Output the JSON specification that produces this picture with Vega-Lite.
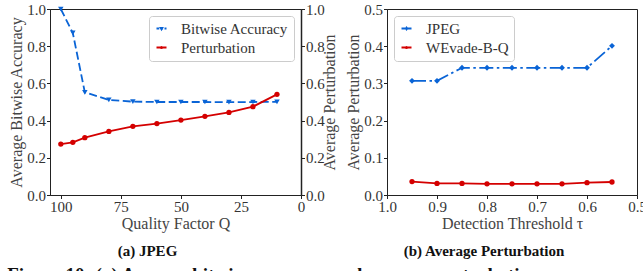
{
  "$schema": "https://vega.github.io/schema/vega-lite/v6.json",
  "padding": {"left": 7, "top": 1, "right": 0, "bottom": 0},
  "background": "white",
  "spacing": 7,
  "title": {"text": "Figure 10: (a) Average bitwise accuracy and average perturbation", "orient": "bottom", "anchor": "start", "font": "Liberation Serif", "fontWeight": "bold", "fontSize": 19, "color": "#111", "offset": 7, "dx": -1},
  "resolve": {"scale": {"color": "independent", "shape": "independent"}, "legend": {"color": "independent", "shape": "independent"}},
  "config": {
    "font": "Liberation Serif",
    "view": {"stroke": "#222", "strokeWidth": 1}
  },
  "datasets": {
    "acc": [{"q": 100, "v": 1.0}, {"q": 95, "v": 0.871}, {"q": 90, "v": 0.552}, {"q": 80, "v": 0.511}, {"q": 70, "v": 0.502}, {"q": 60, "v": 0.5}, {"q": 50, "v": 0.5}, {"q": 40, "v": 0.5}, {"q": 30, "v": 0.499}, {"q": 20, "v": 0.5}, {"q": 10, "v": 0.501}],
    "pert": [{"q": 100, "v": 0.274}, {"q": 95, "v": 0.283}, {"q": 90, "v": 0.308}, {"q": 80, "v": 0.342}, {"q": 70, "v": 0.369}, {"q": 60, "v": 0.384}, {"q": 50, "v": 0.403}, {"q": 40, "v": 0.423}, {"q": 30, "v": 0.444}, {"q": 20, "v": 0.475}, {"q": 10, "v": 0.541}],
    "tj": [{"t": 0.95, "v": 0.307}, {"t": 0.9, "v": 0.307}, {"t": 0.85, "v": 0.342}, {"t": 0.8, "v": 0.342}, {"t": 0.75, "v": 0.342}, {"t": 0.7, "v": 0.342}, {"t": 0.65, "v": 0.342}, {"t": 0.6, "v": 0.342}, {"t": 0.55, "v": 0.401}],
    "tw": [{"t": 0.95, "v": 0.036}, {"t": 0.9, "v": 0.031}, {"t": 0.85, "v": 0.031}, {"t": 0.8, "v": 0.03}, {"t": 0.75, "v": 0.03}, {"t": 0.7, "v": 0.03}, {"t": 0.65, "v": 0.03}, {"t": 0.6, "v": 0.033}, {"t": 0.55, "v": 0.035}],
    "la": [{"sa": "Bitwise Accuracy"}, {"sa": "Perturbation"}],
    "lb": [{"sb": "JPEG"}, {"sb": "WEvade-B-Q"}]
  },
  "hconcat": [
    {
      "width": 251,
      "height": 186,
      "title": {"text": "(a) JPEG", "orient": "bottom", "font": "Liberation Serif", "fontWeight": "bold", "fontSize": 15, "color": "#111", "offset": 12, "dx": -28},
      "resolve": {"scale": {"y": "independent"}},
      "layer": [
        {
          "layer": [
            {
              "data": {"name": "acc"},
              "mark": {"type": "line", "color": "#0a64d6", "strokeWidth": 1.8, "strokeDash": [8, 3.5]},
              "encoding": {
                "x": {"field": "q", "type": "quantitative", "scale": {"domain": [0, 104.5], "reverse": true, "nice": false, "zero": false}, "axis": {"values": [0, 25, 50, 75, 100], "title": "Quality Factor Q", "titlePadding": 1, "domainColor": "#222", "tickColor": "#222", "tickSize": 3.5, "labelFontSize": 15, "titleFontSize": 16, "titleFontWeight": "normal", "labelColor": "#333", "titleColor": "#444", "labelFont": "Liberation Serif", "titleFont": "Liberation Serif", "labelPadding": 1, "labelFlush": false, "grid": false}},
                "y": {"field": "v", "type": "quantitative", "scale": {"domain": [0, 1], "nice": false}, "axis": {"tickCount": 5, "format": ".1f", "title": "Average Bitwise Accuracy", "titlePadding": 2, "domainColor": "#222", "tickColor": "#222", "tickSize": 3.5, "labelFontSize": 15, "titleFontSize": 16, "titleFontWeight": "normal", "labelColor": "#333", "titleColor": "#444", "labelFont": "Liberation Serif", "titleFont": "Liberation Serif", "labelPadding": 1, "labelFlush": false, "grid": false}}
              }
            },
            {
              "data": {"name": "acc"},
              "mark": {"type": "point", "shape": "triangle-down", "filled": true, "opacity": 1, "color": "#0a64d6", "size": 30},
              "encoding": {
                "x": {"field": "q", "type": "quantitative"},
                "y": {"field": "v", "type": "quantitative"}
              }
            },
            {
              "data": {"name": "la"},
              "transform": [{"filter": "false"}],
              "mark": {"type": "point", "filled": false, "opacity": 1, "strokeWidth": 1.8, "size": 784},
              "encoding": {
                "color": {"field": "sa", "type": "nominal", "scale": {"domain": ["Bitwise Accuracy", "Perturbation"], "range": ["#0a64d6", "#d40000"]}, "legend": {"orient": "top-right", "title": null, "labelFont": "Liberation Serif", "labelFontSize": 15, "labelColor": "#333", "strokeColor": "#cccccc", "fillColor": "white", "cornerRadius": 3, "padding": 5, "rowPadding": 3, "labelOffset": 12, "symbolStrokeWidth": 1.8, "offset": 7}},
                "shape": {"field": "sa", "type": "nominal", "scale": {"domain": ["Bitwise Accuracy", "Perturbation"], "range": ["M-1,0H-0.45M-0.2,0H0.32M0.6,0H1M-0.17,-0.12L0.17,-0.12L0,0.17ZM-0.08,-0.07L0.08,-0.07L0,0.08Z", "M-1,0H1M0.14,0A0.14,0.14 0 1,1 -0.14,0A0.14,0.14 0 1,1 0.14,0ZM0.06,0A0.06,0.06 0 1,1 -0.06,0A0.06,0.06 0 1,1 0.06,0Z"]}, "legend": {"orient": "top-right", "title": null, "labelFont": "Liberation Serif", "labelFontSize": 15, "labelColor": "#333", "strokeColor": "#cccccc", "fillColor": "white", "cornerRadius": 3, "padding": 5, "rowPadding": 3, "labelOffset": 12, "symbolStrokeWidth": 1.8, "offset": 7}}
              }
            }
          ]
        },
        {
          "layer": [
            {
              "data": {"name": "pert"},
              "mark": {"type": "line", "color": "#d40000", "strokeWidth": 1.8},
              "encoding": {
                "x": {"field": "q", "type": "quantitative"},
                "y": {"field": "v", "type": "quantitative", "scale": {"domain": [0, 1], "nice": false}, "axis": {"orient": "right", "tickCount": 5, "format": ".1f", "title": "Average Perturbation", "titleAngle": -90, "titlePadding": 13, "domainColor": "#222", "domainWidth": 1.5, "tickColor": "#222", "tickSize": 3.5, "labelFontSize": 15, "titleFontSize": 16, "titleFontWeight": "normal", "labelColor": "#333", "titleColor": "#444", "labelFont": "Liberation Serif", "titleFont": "Liberation Serif", "labelPadding": 1, "labelFlush": false, "grid": false}}
              }
            },
            {
              "data": {"name": "pert"},
              "mark": {"type": "point", "shape": "circle", "filled": true, "opacity": 1, "color": "#d40000", "size": 28},
              "encoding": {
                "x": {"field": "q", "type": "quantitative"},
                "y": {"field": "v", "type": "quantitative"}
              }
            }
          ]
        }
      ]
    },
    {
      "width": 250,
      "height": 186,
      "title": {"text": "(b) Average Perturbation", "orient": "bottom", "font": "Liberation Serif", "fontWeight": "bold", "fontSize": 15, "color": "#111", "offset": 12, "dx": -28},
      "layer": [
        {
          "data": {"name": "tj"},
          "mark": {"type": "line", "color": "#0a64d6", "strokeWidth": 1.8, "strokeDash": [14, 3.5, 2.5, 3.5]},
          "encoding": {
            "x": {"field": "t", "type": "quantitative", "scale": {"domain": [0.5, 1.0], "reverse": true, "nice": false, "zero": false}, "axis": {"values": [0.5, 0.6, 0.7, 0.8, 0.9, 1.0], "format": ".1f", "title": "Detection Threshold τ", "titlePadding": 1, "domainColor": "#222", "tickColor": "#222", "tickSize": 3.5, "labelFontSize": 15, "titleFontSize": 16, "titleFontWeight": "normal", "labelColor": "#333", "titleColor": "#444", "labelFont": "Liberation Serif", "titleFont": "Liberation Serif", "labelPadding": 1, "labelFlush": false, "labelOverlap": false, "grid": false}},
            "y": {"field": "v", "type": "quantitative", "scale": {"domain": [0, 0.5], "nice": false}, "axis": {"tickCount": 5, "format": ".1f", "title": "Average Perturbation", "titlePadding": 2, "domainColor": "#222", "tickColor": "#222", "tickSize": 3.5, "labelFontSize": 15, "titleFontSize": 16, "titleFontWeight": "normal", "labelColor": "#333", "titleColor": "#444", "labelFont": "Liberation Serif", "titleFont": "Liberation Serif", "labelPadding": 1, "labelFlush": false, "grid": false}}
          }
        },
        {
          "data": {"name": "tj"},
          "mark": {"type": "point", "shape": "diamond", "filled": true, "opacity": 1, "color": "#0a64d6", "size": 34},
          "encoding": {
            "x": {"field": "t", "type": "quantitative"},
            "y": {"field": "v", "type": "quantitative"}
          }
        },
        {
          "data": {"name": "tw"},
          "mark": {"type": "line", "color": "#d40000", "strokeWidth": 1.8},
          "encoding": {
            "x": {"field": "t", "type": "quantitative"},
            "y": {"field": "v", "type": "quantitative"}
          }
        },
        {
          "data": {"name": "tw"},
          "mark": {"type": "point", "shape": "circle", "filled": true, "opacity": 1, "color": "#d40000", "size": 28},
          "encoding": {
            "x": {"field": "t", "type": "quantitative"},
            "y": {"field": "v", "type": "quantitative"}
          }
        },
        {
          "data": {"name": "lb"},
          "transform": [{"filter": "false"}],
          "mark": {"type": "point", "filled": false, "opacity": 1, "strokeWidth": 1.8, "size": 784},
          "encoding": {
            "color": {"field": "sb", "type": "nominal", "scale": {"domain": ["JPEG", "WEvade-B-Q"], "range": ["#0a64d6", "#d40000"]}, "legend": {"orient": "top-left", "title": null, "labelFont": "Liberation Serif", "labelFontSize": 15, "labelColor": "#333", "strokeColor": "#cccccc", "fillColor": "white", "cornerRadius": 3, "padding": 5, "rowPadding": 3, "labelOffset": 12, "symbolStrokeWidth": 1.8, "offset": 7}},
            "shape": {"field": "sb", "type": "nominal", "scale": {"domain": ["JPEG", "WEvade-B-Q"], "range": ["M-1,0H-0.3M-0.15,0H-0.08M0.2,0H1M0,-0.2L0.15,0L0,0.2L-0.15,0ZM0,-0.09L0.07,0L0,0.09L-0.07,0Z", "M-1,0H1M0.14,0A0.14,0.14 0 1,1 -0.14,0A0.14,0.14 0 1,1 0.14,0ZM0.06,0A0.06,0.06 0 1,1 -0.06,0A0.06,0.06 0 1,1 0.06,0Z"]}, "legend": {"orient": "top-left", "title": null, "labelFont": "Liberation Serif", "labelFontSize": 15, "labelColor": "#333", "strokeColor": "#cccccc", "fillColor": "white", "cornerRadius": 3, "padding": 5, "rowPadding": 3, "labelOffset": 12, "symbolStrokeWidth": 1.8, "offset": 7}}
          }
        }
      ]
    }
  ]
}
